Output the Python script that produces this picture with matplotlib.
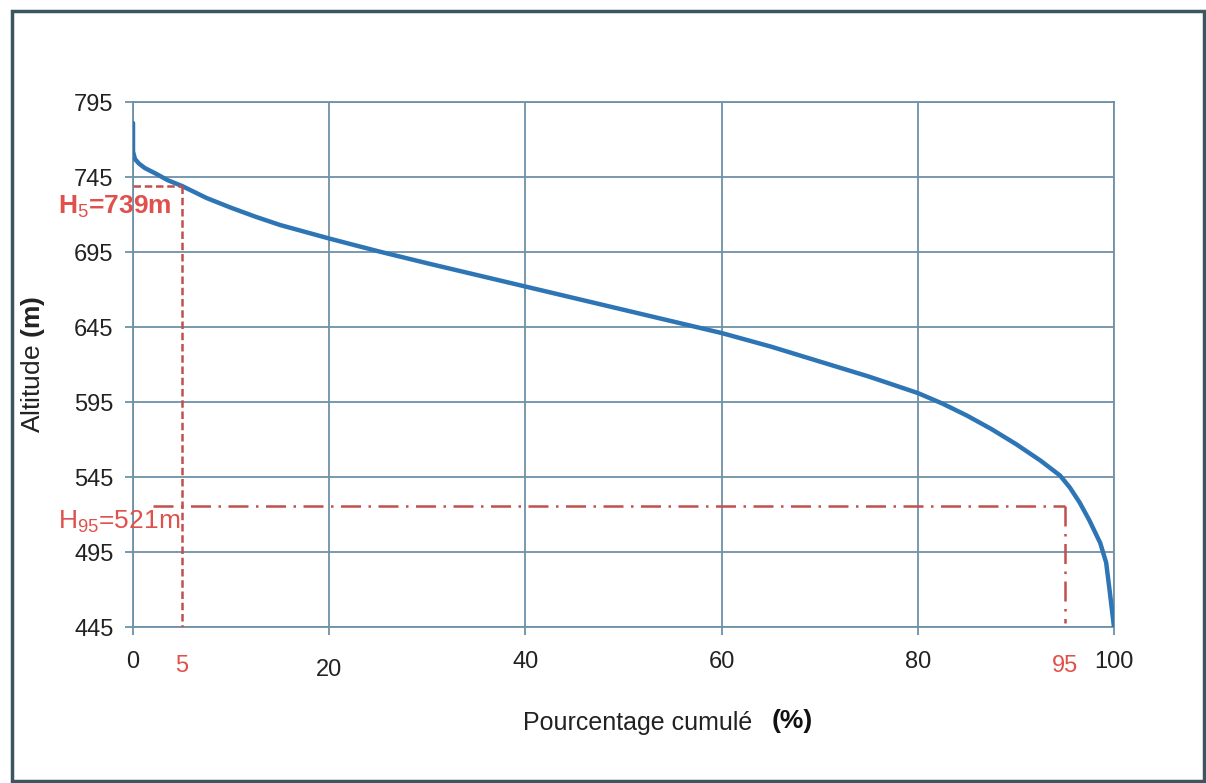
import matplotlib
matplotlib.use("Agg")
import matplotlib.pyplot as plt
import matplotlib.transforms as mtransforms
from matplotlib.patches import Rectangle

plt.rcParams["font.family"] = ["Liberation Sans", "DejaVu Sans"]
plt.rcParams["mathtext.fontset"] = "custom"
plt.rcParams["mathtext.rm"] = "Liberation Sans"
plt.rcParams["mathtext.bf"] = "Liberation Sans:bold"

# hypsometric curve
pct = [0, 0, 0.2, 0.6, 1.2, 2.4, 3.5, 5, 7.5, 10, 12.5, 15, 20, 25, 30, 40, 50,
       60, 65, 70, 75, 80, 82.5, 85, 87.5, 90, 92.5, 94.5, 95.5, 96.5, 97.5,
       98.6, 99.2, 99.6, 100]
alt = [781, 762, 757, 754, 751, 747, 743, 739, 731, 724.5, 718.5, 713, 704,
       695.5, 687.5, 672, 656.5, 641, 632, 622, 612, 601, 594, 586, 577, 567,
       556, 546, 538, 528, 516, 501, 488, 467, 445]

x_ticks = [0, 20, 40, 60, 80, 100]
y_ticks = [445, 495, 545, 595, 645, 695, 745, 795]

h5_pct, h5_alt = 5, 739
h95_pct, h95_alt = 95, 526
h5_label = "H$_5$=739m"
h95_label = "H$_{95}$=521m"

grid_col = "#6f91a6"
red_line = "#c0504d"
red_text = "#e0504c"

fig = plt.figure(figsize=(12.06, 7.83), dpi=100)
ax = fig.add_axes([0.1103, 0.1992, 0.8134, 0.6705])

ax.plot(pct, alt, color="#2e75b6", lw=3.2, zorder=3,
        solid_capstyle="round", solid_joinstyle="round")

# guide lines
ax.plot([0, h5_pct], [h5_alt, h5_alt], color=red_line, lw=1.8, ls=(0, (3, 1.5)), zorder=4)
ax.plot([h5_pct, h5_pct], [h5_alt, y_ticks[0]], color=red_line, lw=1.8, ls=(0, (3, 1.5)), zorder=4)
ax.plot([2, h95_pct], [h95_alt, h95_alt], color=red_line, lw=1.8, ls=(0, (8, 3, 1, 3)), zorder=4)
ax.plot([h95_pct, h95_pct], [h95_alt, 448], color=red_line, lw=1.8, ls=(0, (8, 3, 1, 3)), zorder=4)

ax.text(-7.6, 725, h5_label, color=red_text, fontsize=19, fontweight="bold",
        ha="left", va="center", clip_on=False)
ax.text(-7.6, 515, h95_label, color=red_text, fontsize=19,
        ha="left", va="center", clip_on=False)

ax.set_xlim(0, 100)
ax.set_ylim(445, 795)
ax.set_xticks(x_ticks)
ax.set_yticks(y_ticks)
ax.grid(True, color=grid_col, lw=1.3)
ax.set_axisbelow(True)
for s in ax.spines.values():
    s.set_color(grid_col)
    s.set_linewidth(1.3)
ax.tick_params(axis="both", colors=grid_col, length=6, width=1.3)
ax.tick_params(axis="y", labelcolor="#222222", labelsize=17, pad=8)
ax.tick_params(axis="x", labelcolor="#222222", labelsize=17, pad=11)

# the "20" label sits a bit lower in the original
lbl = ax.get_xticklabels()[1]
lbl.set_transform(lbl.get_transform() + mtransforms.ScaledTranslation(0, -8 / 100, fig.dpi_scale_trans))

# red tick labels at 5 and 95
xform = ax.get_xaxis_transform()
for v in (h5_pct, h95_pct):
    ax.text(v, -0.075, str(v), transform=xform, color=red_text, fontsize=17,
            ha="center", va="center", clip_on=False)

ax.set_ylabel("Altitude $\\mathbf{(m)}$", fontsize=19, color="#222222")
ax.yaxis.set_label_coords(-0.088, 0.5)

fig.text(523 / 1206, 1 - 723 / 783, "Pourcentage cumulé", fontsize=18,
         color="#222222", ha="left", va="center")
fig.text(772 / 1206, 1 - 721 / 783, "(%)", fontsize=19, fontweight="bold",
         color="#111111", ha="left", va="center")

fig.patches.append(Rectangle((12 / 1206, 2 / 783), 1192 / 1206, 770 / 783,
                             transform=fig.transFigure, fill=False,
                             edgecolor="#3d5560", lw=2.5))

fig.savefig("out.png", dpi=100)
plt.close(fig)
